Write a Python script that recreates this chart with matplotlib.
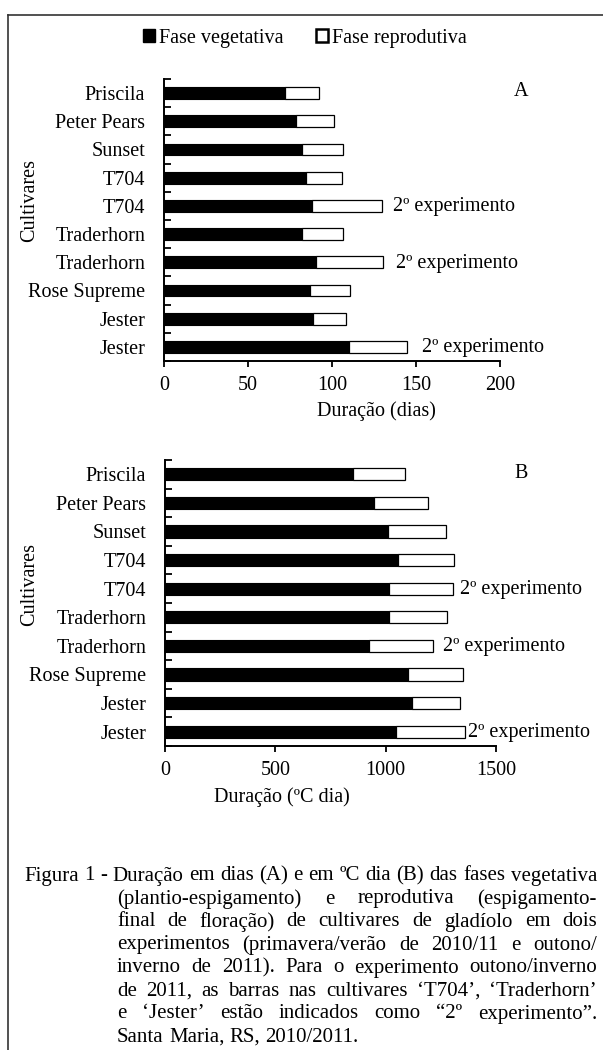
import numpy as np
import matplotlib
matplotlib.use("Agg")
import matplotlib.pyplot as plt
from matplotlib.patches import Patch
from matplotlib.lines import Line2D

plt.rcParams['font.family'] = ['Liberation Serif', 'DejaVu Serif']

# --- data ---
cultivares = ['Priscila', 'Peter Pears', 'Sunset', 'T704', 'T704', 'Traderhorn',
              'Traderhorn', 'Rose Supreme', 'Jester', 'Jester']
segundo_exp = [False, False, False, False, True, False, True, False, False, True]

# duração em dias (A)
veg_dias = [72.0, 78.6, 82.3, 84.7, 88.1, 82.3, 90.3, 87.1, 88.7, 110.1]
rep_dias = [20.5, 22.6, 24.4, 21.3, 41.7, 24.4, 40.1, 23.4, 19.6, 34.7]

# duração em ºC dia (B)
veg_gd = [853, 949, 1010, 1058, 1016, 1016, 925, 1101, 1119, 1046]
rep_gd = [233, 245, 263, 250, 287, 262, 288, 251, 216, 312]

W, H = 603, 1050
FS = 14.5
fig = plt.figure(figsize=(W / 100, H / 100), dpi=100)


def px(x, y):
    return x / W, 1 - y / H


def panel(rect, veg, rep, xmax, step, letter, letter_xy, offsets):
    ax = fig.add_axes(rect)
    y = np.arange(len(cultivares))
    ax.barh(y, veg, height=0.42, color='black', edgecolor='black', linewidth=0.8)
    ax.barh(y, rep, left=veg, height=0.42, color='white', edgecolor='black', linewidth=0.9)
    ax.set_ylim(len(cultivares) - 0.5, -0.5)
    ax.set_xlim(0, xmax)
    ax.set_xticks(np.arange(0, xmax + 1, step))
    ax.set_yticks(y)
    ax.set_yticklabels(cultivares)
    ax.set_yticks(np.arange(-0.5, len(cultivares)), minor=True)
    ax.tick_params(axis='y', which='major', length=0, pad=13.5, labelsize=FS)
    ax.tick_params(axis='y', which='minor', direction='in', length=5, width=1.3)
    ax.tick_params(axis='x', direction='out', length=4.5, width=1.3, pad=6, labelsize=FS)
    for s in ['top', 'right']:
        ax.spines[s].set_visible(False)
    for s in ['left', 'bottom']:
        ax.spines[s].set_linewidth(1.4)
    fig.text(*px(*letter_xy), letter, fontsize=FS, ha='center', va='center')
    k = 0
    for i, flag in enumerate(segundo_exp):
        if flag:
            ax.annotate('2º experimento', xy=(veg[i] + rep[i], i), xytext=(offsets[k], -1),
                        textcoords='offset pixels', ha='left', va='center', fontsize=FS)
            k += 1
    return ax


axA = panel([164 / W, 1 - 361 / H, 336 / W, 282 / H], veg_dias, rep_dias, 200, 50,
            'A', (521, 91), [11, 13, 15])
axB = panel([165 / W, 1 - 746 / H, 331 / W, 286 / H], veg_gd, rep_gd, 1500, 500,
            'B', (521, 474), [7, 10, 3])

fig.text(*px(376, 411), 'Duração (dias)', fontsize=FS, ha='center', va='center')
fig.text(*px(282, 797), 'Duração (ºC dia)', fontsize=FS, ha='center', va='center')
fig.text(*px(30, 200), 'Cultivares', fontsize=FS, rotation=90, ha='center', va='center')
fig.text(*px(30, 585), 'Cultivares', fontsize=FS, rotation=90, ha='center', va='center')

handles = [Patch(facecolor='black', edgecolor='black', label='Fase vegetativa'),
           Patch(facecolor='white', edgecolor='black', linewidth=1.8, label='Fase reprodutiva')]
fig.legend(handles=handles, loc='center', bbox_to_anchor=px(305, 38), ncol=2, frameon=False,
           fontsize=FS, handlelength=0.6, handleheight=0.6, handletextpad=0.2, columnspacing=1.6)

# moldura (topo e esquerda)
fig.add_artist(Line2D([8 / W, 1], [1 - 15 / H] * 2, transform=fig.transFigure, color='#333333', lw=1.2))
fig.add_artist(Line2D([8 / W] * 2, [0, 1 - 15 / H], transform=fig.transFigure, color='#333333', lw=1.2))

# legenda da figura, justificada
caption = [
    'Figura 1 - Duração em dias (A) e em ºC dia (B) das fases vegetativa',
    '(plantio-espigamento) e reprodutiva (espigamento-',
    'final de floração) de cultivares de gladíolo em dois',
    'experimentos (primavera/verão de 2010/11 e outono/',
    'inverno de 2011). Para o experimento outono/inverno',
    'de 2011, as barras nas cultivares ‘T704’, ‘Traderhorn’',
    'e ‘Jester’ estão indicados como “2º experimento”.',
    'Santa Maria, RS, 2010/2011.',
]
CFS = 15
x_right = 597
fig.canvas.draw()
rend = fig.canvas.get_renderer()
space_w = fig.text(0, 0, 'a a', fontsize=CFS).get_window_extent(rend).width - \
    fig.text(0, 0, 'aa', fontsize=CFS).get_window_extent(rend).width
for t in fig.texts[-2:]:
    t.remove()
for i, line in enumerate(caption):
    x0 = 24 if i == 0 else 117
    yc = 876 + 23 * i
    words = line.split(' ')
    ts = [fig.text(0, 1 - yc / H, w, fontsize=CFS, ha='left', va='center') for w in words]
    widths = [t.get_window_extent(rend).width for t in ts]
    if i == len(caption) - 1:
        gap = space_w
    else:
        gap = (x_right - x0 - sum(widths)) / (len(words) - 1)
    x = x0
    for t, w in zip(ts, widths):
        t.set_x(x / W)
        x += w + gap

fig.savefig('out.png', dpi=100)
